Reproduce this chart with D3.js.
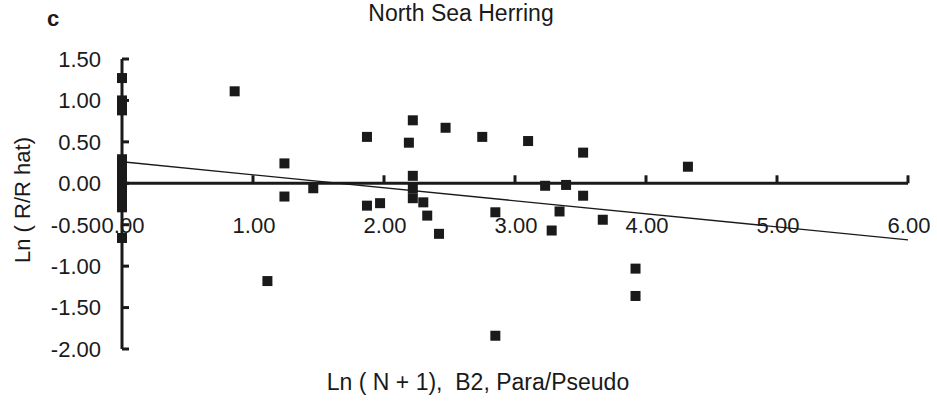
<!DOCTYPE html>
<html lang="en">
<head>
  <meta charset="UTF-8" />
  <title>North Sea Herring</title>
  <script src="https://d3js.org/d3.v7.min.js"></script>
  <style>
    body { margin: 0; background: #fff; }
    text { font-family: "Liberation Sans", Arial, sans-serif; fill: #1a1a1a; white-space: pre; }
    .tick-label { font-size: 22px; }
    .axis-line { stroke: #1a1a1a; stroke-width: 3px; fill: none; }
    .fit { stroke: #1a1a1a; stroke-width: 1.3px; fill: none; }
    .pt { fill: #1a1a1a; }
  </style>
</head>
<body>
<script>
  // Ln(N+1) values (x) and Ln(R/R hat) residuals (y)
  const xVals = [0, 0, 0, 0, 0, 0, 0, 0, 0, 0, 0, 0,
                 0.86, 1.11, 1.24, 1.24, 1.46,
                 1.87, 1.87, 1.97, 2.19, 2.22, 2.22, 2.22, 2.22, 2.30, 2.33, 2.42, 2.47,
                 2.75, 2.85, 2.85, 3.10, 3.23, 3.28, 3.34, 3.39, 3.52, 3.52, 3.67,
                 3.92, 3.92, 4.32];
  const yVals = [1.27, 1.00, 0.88, 0.29, 0.20, 0.10, 0.00, -0.10, -0.20, -0.29, -0.66, 0.95,
                 1.11, -1.18, 0.24, -0.16, -0.06,
                 0.56, -0.27, -0.24, 0.49, 0.76, 0.09, -0.06, -0.18, -0.23, -0.39, -0.61, 0.67,
                 0.56, -0.35, -1.84, 0.51, -0.03, -0.57, -0.34, -0.02, 0.37, -0.15, -0.44,
                 -1.03, -1.36, 0.20];
  // fitted regression line
  const fitIntercept = 0.26;
  const fitSlope = -0.157;
  const xTicks = [0, 1, 2, 3, 4, 5, 6];
  const yTicks = [1.5, 1.0, 0.5, 0.0, -0.5, -1.0, -1.5, -2.0];

  const W = 937, H = 401;
  const svg = d3.select("body").append("svg")
    .attr("width", W).attr("height", H);

  const x = d3.scaleLinear().domain([0, 6]).range([122, 908]);
  const y = d3.scaleLinear().domain([-2, 1.5]).range([349, 59]);
  const fmt = d => d.toFixed(2); // plain hyphen minus, as in the original

  // panel letter and title
  svg.append("text").attr("x", 47).attr("y", 26)
    .style("font-size", "22px").style("font-weight", "bold").text("c");
  svg.append("text").attr("x", 461).attr("y", 21)
    .attr("text-anchor", "middle").style("font-size", "23px")
    .text("North Sea Herring");

  // y axis line + ticks (pointing right)
  svg.append("line").attr("class", "axis-line")
    .attr("x1", x(0)).attr("x2", x(0)).attr("y1", y(1.5)).attr("y2", y(-2));
  svg.selectAll(".ytick").data(yTicks).enter().append("line")
    .attr("class", "axis-line")
    .attr("x1", x(0)).attr("x2", x(0) + 7)
    .attr("y1", d => y(d)).attr("y2", d => y(d));
  svg.selectAll(".ylab").data(yTicks).enter().append("text")
    .attr("class", "tick-label")
    .attr("x", 101).attr("y", d => y(d)).attr("dy", "0.36em")
    .attr("text-anchor", "end")
    .text(fmt);

  // x axis along zero line + ticks (pointing up)
  svg.append("line").attr("class", "axis-line")
    .attr("x1", x(0)).attr("x2", x(6)).attr("y1", y(0)).attr("y2", y(0));
  svg.selectAll(".xtick").data(xTicks).enter().append("line")
    .attr("class", "axis-line")
    .attr("x1", d => x(d)).attr("x2", d => x(d))
    .attr("y1", y(0)).attr("y2", y(0) - 8);
  svg.selectAll(".xlab").data(xTicks).enter().append("text")
    .attr("class", "tick-label")
    .attr("x", d => x(d) + 1).attr("y", 233)
    .attr("text-anchor", "middle")
    .text(fmt);

  // regression line
  svg.append("line").attr("class", "fit")
    .attr("x1", x(0)).attr("y1", y(fitIntercept))
    .attr("x2", x(6)).attr("y2", y(fitIntercept + fitSlope * 6));

  // data squares
  const s = 10;
  svg.selectAll(".pt").data(xVals).enter().append("rect")
    .attr("class", "pt")
    .attr("x", (d, i) => x(d) - s / 2)
    .attr("y", (d, i) => y(yVals[i]) - s / 2)
    .attr("width", s).attr("height", s);

  // axis titles
  svg.append("text").attr("x", 478).attr("y", 390)
    .attr("text-anchor", "middle").style("font-size", "23px")
    .text("Ln ( N + 1),  B2, Para/Pseudo");
  svg.append("text")
    .attr("transform", "translate(30,200) rotate(-90)")
    .attr("text-anchor", "middle").style("font-size", "22px")
    .text("Ln ( R/R hat)");
</script>
</body>
</html>
